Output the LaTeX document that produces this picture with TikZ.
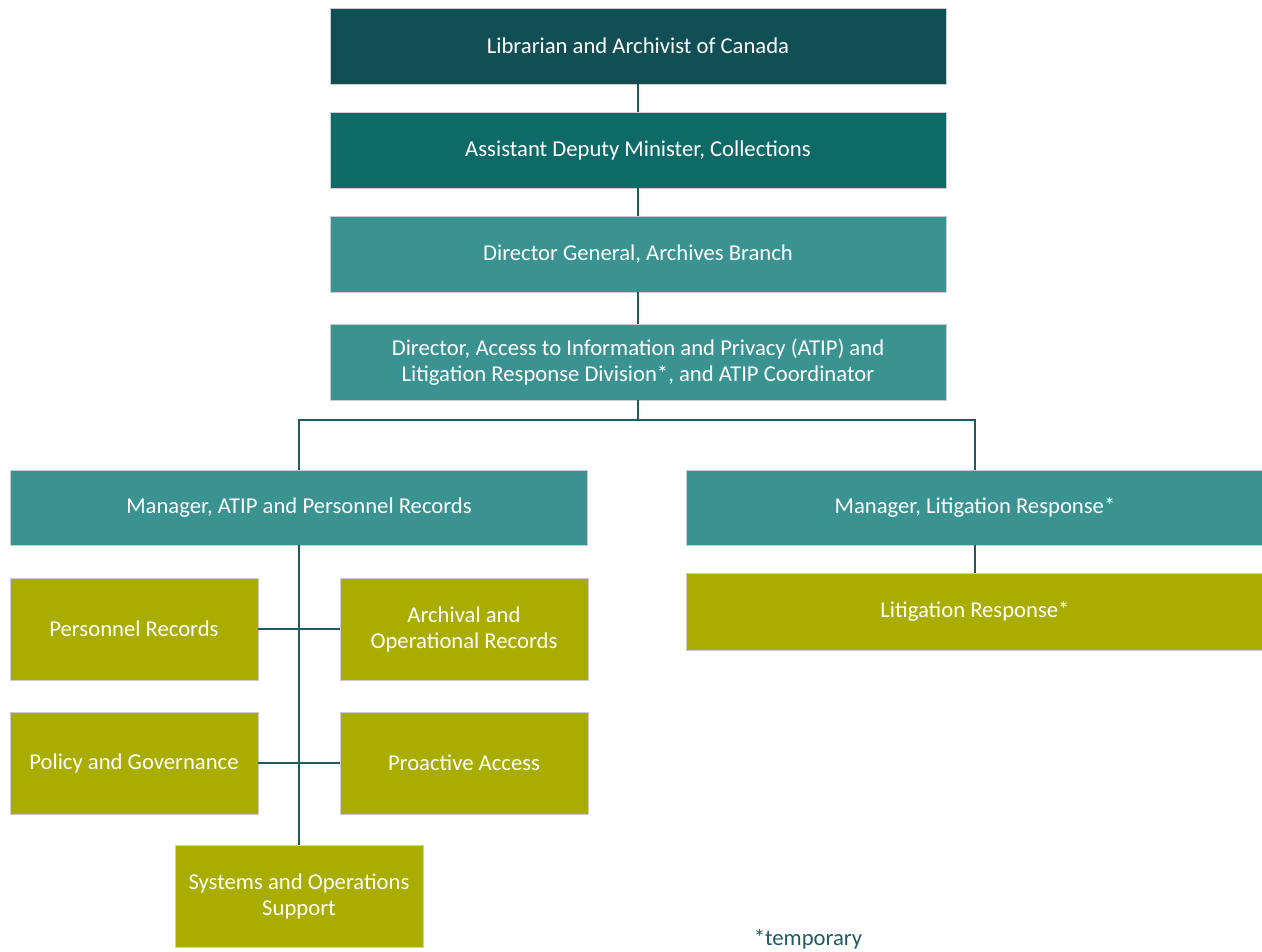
\documentclass[tikz,border=0pt]{standalone}
\usepackage{fontspec}
\setmainfont{Carlito}
\definecolor{cdark}{HTML}{124F55}
\definecolor{cadm}{HTML}{0E6A66}
\definecolor{cmid}{HTML}{3A9391}
\definecolor{colive}{HTML}{A8AD00}
\definecolor{cline}{HTML}{1E5B62}
\definecolor{cborder}{HTML}{C9CDCD}
\begin{document}
\begin{tikzpicture}[x=0.02cm,y=-0.02cm,
  box/.style={draw=cborder,line width=0.5pt,text=white,align=center,font=\fontsize{12.9}{14.8}\selectfont,inner sep=2pt},
  wide/.style={box,minimum width=12.32cm,minimum height=1.52cm},
  mgr/.style={box,fill=cmid,minimum width=11.54cm,minimum height=1.5cm},
  unit/.style={box,fill=colive,minimum width=4.96cm,minimum height=2.04cm},
  link/.style={draw=cline,line width=0.9pt}]
\useasboundingbox (0,0) rectangle (1262,951);
\node[wide,fill=cdark] (lac) at (638,46) {Librarian and Archivist of Canada};
\node[wide,fill=cadm] (adm) at (638,150) {Assistant Deputy Minister, Collections};
\node[wide,fill=cmid] (dg) at (638,254) {Director General, Archives Branch};
\node[wide,fill=cmid] (dir) at (638,362) {Director, Access to Information and Privacy (ATIP) and\\Litigation Response Division*, and ATIP Coordinator};
\node[mgr] (mgrA) at (299,507.5) {Manager, ATIP and Personnel Records};
\node[mgr] (mgrL) at (975,507.5) {Manager, Litigation Response*};
\node[mgr,fill=colive,minimum height=1.54cm] (lit) at (975,611.5) {Litigation Response*};
\node[unit] (pers) at (134,629) {Personnel Records};
\node[unit] (arch) at (464,629) {Archival and\\Operational Records};
\node[unit] (pol) at (134,763) {Policy and Governance};
\node[unit] (pro) at (464,763) {Proactive Access};
\node[unit] (sys) at (299,896) {Systems and Operations\\Support};
\node[text=cline,font=\fontsize{12.9}{14.8}\selectfont] (temp) at (808,939) {*temporary};
\coordinate (bus) at (638,420);
\draw[link] (lac) -- (adm);
\draw[link] (adm) -- (dg);
\draw[link] (dg) -- (dir);
\draw[link] (dir) -- (bus);
\draw[link] (mgrA.north) |- (bus) -| (mgrL.north);
\draw[link] (mgrL) -- (lit);
\draw[link] (mgrA) -- (sys);
\draw[link] (pers) -- (arch);
\draw[link] (pol) -- (pro);
\end{tikzpicture}
\end{document}
